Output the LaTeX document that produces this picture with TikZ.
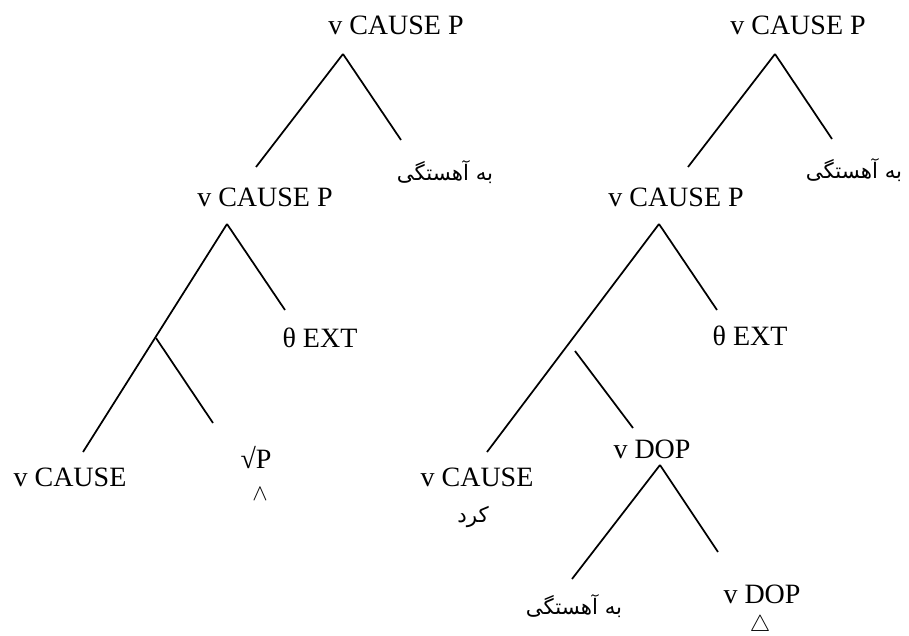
\documentclass[tikz,border=0pt]{standalone}
\usepackage{fontspec}
\setmainfont{Liberation Serif}
\newfontfamily\farsifont[Script=Arabic]{DejaVu Sans}
\TeXXeTstate=1
\usetikzlibrary{positioning}
\newcommand{\rl}[1]{\beginR #1\endR}

\begin{document}
\begin{tikzpicture}[x=0.75pt, y=-0.75pt,
  lbl/.style={inner sep=0pt, font=\fontsize{21pt}{24pt}\selectfont},
  fa/.style={inner sep=0pt, font=\farsifont\fontsize{16pt}{19pt}\selectfont},
  branch/.style={line width=1.3pt}]
  \useasboundingbox (0,0) rectangle (909,635);
  % left tree
  \node[lbl] (la) at (396,25) {v CAUSE P};
  \coordinate (la-top) at (343,54);
  \coordinate (la-l) at (256,167);
  \coordinate (la-r) at (401,140);
  \node[fa] (la-adv) at (445,172) {\rl{به آهستگی}};
  \node[lbl] (lb) at (265,197) {v CAUSE P};
  \coordinate (lb-top) at (227,224);
  \coordinate (lb-r) at (285,310);
  \coordinate (lb-l) at (83,452);
  \node[lbl] (lb-ext) at (320,338) {θ EXT};
  \coordinate (lc-top) at (156,338);
  \coordinate (lc-r) at (213,423);
  \node[lbl] (lc-cause) at (70,477) {v CAUSE};
  \node[lbl] (lc-root) at (256,458) {√P};
  \node[lbl, font=\fontsize{18pt}{20pt}\selectfont] (lc-hat) at (260,494) {$\wedge$};
  \draw[branch] (la-top) -- (la-l);
  \draw[branch] (la-top) -- (la-r);
  \draw[branch] (lb-top) -- (lb-l);
  \draw[branch] (lb-top) -- (lb-r);
  \draw[branch] (lc-top) -- (lc-r);
  % right tree
  \node[lbl] (ra) at (798,25) {v CAUSE P};
  \coordinate (ra-top) at (775,54);
  \coordinate (ra-l) at (688,167);
  \coordinate (ra-r) at (832,139);
  \node[fa] (ra-adv) at (854,170) {\rl{به آهستگی}};
  \node[lbl] (rb) at (676,197) {v CAUSE P};
  \coordinate (rb-top) at (659,224);
  \coordinate (rb-r) at (717,310);
  \coordinate (rb-l) at (487,452);
  \node[lbl] (rb-ext) at (750,336) {θ EXT};
  \coordinate (rc-top) at (575,351);
  \coordinate (rc-r) at (633,428);
  \node[lbl] (rc-cause) at (477,477) {v CAUSE};
  \node[fa] (rc-kard) at (473,517) {\rl{کرد}};
  \node[lbl] (rd) at (652,449) {v DOP};
  \coordinate (rd-top) at (660,465);
  \coordinate (rd-l) at (572,579);
  \coordinate (rd-r) at (718,552);
  \node[fa] (rd-adv) at (574,606) {\rl{به آهستگی}};
  \node[lbl] (rd-dop) at (762,594) {v DOP};
  \node[lbl, font=\fontsize{17pt}{19pt}\selectfont] (rd-tri) at (760,626) {$\triangle$};
  \draw[branch] (ra-top) -- (ra-l);
  \draw[branch] (ra-top) -- (ra-r);
  \draw[branch] (rb-top) -- (rb-l);
  \draw[branch] (rb-top) -- (rb-r);
  \draw[branch] (rc-top) -- (rc-r);
  \draw[branch] (rd-top) -- (rd-l);
  \draw[branch] (rd-top) -- (rd-r);
\end{tikzpicture}
\end{document}
